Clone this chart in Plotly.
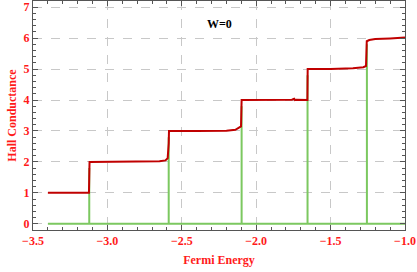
import plotly.graph_objects as go

# Hall conductance (red) data
hall_x = [-3.40, -3.20, -3.124, -3.12, -3.0, -2.8, -2.65, -2.61, -2.595, -2.588, -2.586,
          -2.4, -2.2, -2.14, -2.115, -2.102, -2.098, -1.9, -1.76, -1.745, -1.74, -1.73, -1.66,
          -1.656, -1.654, -1.5, -1.35, -1.28, -1.262, -1.257, -1.24, -1.2, -1.1, -1.0]
hall_y = [1.00, 1.00, 1.00, 2.00, 2.00, 2.01, 2.02, 2.05, 2.12, 2.60, 3.00,
          3.00, 3.01, 3.04, 3.10, 3.15, 4.00, 4.00, 4.01, 4.04, 4.00, 4.01, 4.00,
          4.00, 5.00, 5.00, 5.03, 5.06, 5.10, 5.90, 5.94, 5.97, 5.99, 6.02]

# Green data: zero with spikes at transitions
green_x = [-3.40, -3.122, -3.122, -3.122, -2.588, -2.588, -2.588, -2.098, -2.098, -2.098,
           -1.655, -1.655, -1.655, -1.256, -1.256, -1.256, -1.0]
green_y = [0, 0, 1.8, 0, 0, 2.8, 0, 0, 3.8, 0,
           0, 4.8, 0, 0, 5.8, 0, 0]

x_ticks = [-3.5, -3.0, -2.5, -2.0, -1.5, -1.0]
y_ticks = [0, 1, 2, 3, 4, 5, 6, 7]

fig = go.Figure()
fig.add_trace(go.Scatter(x=green_x, y=green_y, mode="lines",
                         line=dict(color="#7cc860", width=2), showlegend=False))
fig.add_trace(go.Scatter(x=hall_x, y=hall_y, mode="lines",
                         line=dict(color="#c00000", width=2), showlegend=False))

font_t = "Liberation Serif, Times New Roman, serif"
red = "#ff1a1a"
tickfont = dict(family=font_t, size=12, color=red, weight="bold")

fig.add_annotation(x=-2.25, y=6.45, text="W=0", showarrow=False,
                   font=dict(family=font_t, size=12, color="black", weight="bold"))

axis_common = dict(showline=True, linecolor="#555", linewidth=1, mirror="allticks",
                   ticks="inside", ticklen=5, tickcolor="#555", showgrid=True,
                   gridcolor="#c8c8c8", griddash="dash", gridwidth=1, zeroline=False,
                   tickfont=tickfont, automargin=False)

fig.update_xaxes(range=[-3.5, -1.0], tickvals=x_ticks,
                 ticktext=["\u2212%.1f" % abs(v) for v in x_ticks],
                 minor=dict(dtick=0.1, tick0=-3.5, ticks="inside", ticklen=3, tickcolor="#555", showgrid=False),
                 title=dict(text="Fermi Energy", font=dict(family=font_t, size=12, color=red, weight="bold"), standoff=8),
                 **axis_common)
fig.update_yaxes(range=[-0.2, 7.2], tickvals=y_ticks,
                 ticktext=["%d" % v for v in y_ticks],
                 minor=dict(dtick=0.2, tick0=0, ticks="inside", ticklen=3, tickcolor="#555", showgrid=False),
                 title=dict(text="Hall Conductance", font=dict(family=font_t, size=12, color=red, weight="bold"), standoff=4),
                 **axis_common)

fig.update_layout(width=417, height=272, margin=dict(l=33, r=12, t=1, b=42),
                  plot_bgcolor="white", paper_bgcolor="white")

fig.write_html("out.html", config={"displayModeBar": False},
               post_script="document.body.style.margin='0';")
